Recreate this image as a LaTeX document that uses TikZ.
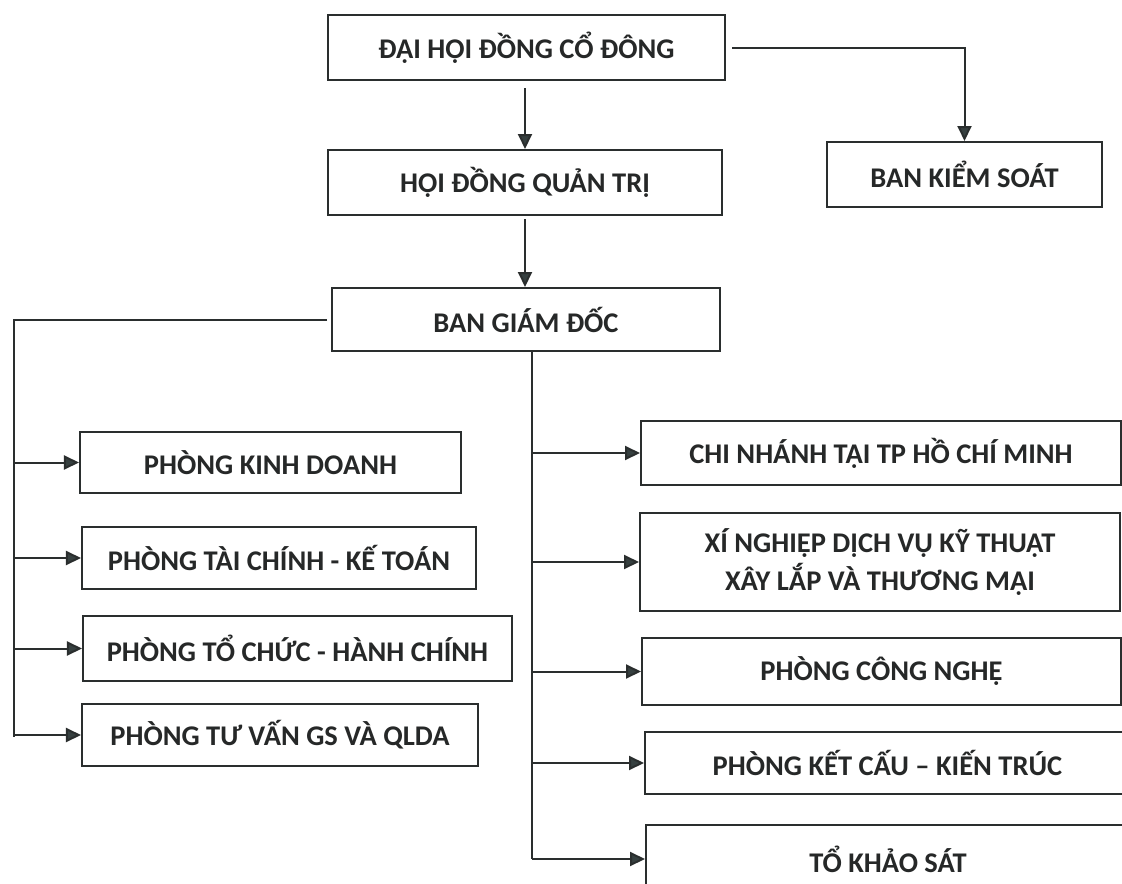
\documentclass[tikz,border=0pt]{standalone}
\usepackage{fontspec}
\setmainfont{Carlito}
\usetikzlibrary{arrows.meta}
\definecolor{linec}{HTML}{2A2E2E}
\definecolor{headc}{HTML}{364040}
\definecolor{textc}{HTML}{262828}
\newcommand{\boxfont}{\fontsize{28.5bp}{38bp}\selectfont\bfseries}
\begin{document}
\begin{tikzpicture}[x=1bp,y=-1bp,
  box/.style={draw=linec, line width=2bp, inner sep=0pt, align=center, font=\boxfont, text=textc},
  ln/.style={draw=linec, line width=2bp},
  arr/.style={draw=linec, line width=2bp, -{Triangle[length=15bp,width=14bp,fill=headc]}}]
\useasboundingbox (0,0) rectangle (1122,884);
\fill[white] (0,0) rectangle (1122,884);

% top
\node[box, minimum width=397bp, minimum height=65bp] (dh) at (526.5,47.5) {ĐẠI HỘI ĐỒNG CỔ ĐÔNG};
\node[box, minimum width=394bp, minimum height=65bp] (hd) at (525,182.5) {HỘI ĐỒNG QUẢN TRỊ};
\node[box, minimum width=275bp, minimum height=65bp] (bks) at (964.5,174.5) {BAN KIỂM SOÁT};
\node[box, minimum width=388bp, minimum height=63bp] (bgd) at (526,319.5) {BAN GIÁM ĐỐC};

% left
\node[box, minimum width=381bp, minimum height=61bp] (kd) at (270.5,462.5) {PHÒNG KINH DOANH};
\node[box, minimum width=394bp, minimum height=62bp] (tc) at (279,558) {PHÒNG TÀI CHÍNH - KẾ TOÁN};
\node[box, minimum width=429bp, minimum height=65bp] (tchc) at (297.5,648.5) {PHÒNG TỔ CHỨC - HÀNH CHÍNH};
\node[box, minimum width=396bp, minimum height=62bp] (tv) at (280,735) {PHÒNG TƯ VẤN GS VÀ QLDA};

% right
\node[box, minimum width=480bp, minimum height=64bp] (cn) at (881,453) {CHI NHÁNH TẠI TP HỒ CHÍ MINH};
\node[box, minimum width=480bp, minimum height=98bp] (xn) at (880,562) {XÍ NGHIỆP DỊCH VỤ KỸ THUẬT\\XÂY LẮP VÀ THƯƠNG MẠI};
\node[box, minimum width=479bp, minimum height=67bp] (cng) at (881.5,671.5) {PHÒNG CÔNG NGHỆ};
\node[box, minimum width=485bp, minimum height=62bp] (kc) at (887.5,763) {PHÒNG KẾT CẤU – KIẾN TRÚC};
\node[box, minimum width=484bp, minimum height=68bp] (tks) at (888,859) {TỔ KHẢO SÁT};

% top connectors
\draw[arr] ([yshift=-7bp]hd.north |- dh.south) -- (hd.north);
\draw[arr] ([yshift=-3bp]hd.south) -- (hd.south |- bgd.north);
\draw[arr] ([xshift=6bp]dh.east) -| (bks.north);

% left trunk
\coordinate (lt) at (14,0);
\draw[ln] ([xshift=-4bp]bgd.west) -- (bgd.west -| lt) -- ([yshift=-2bp]lt |- tv.west);
\draw[arr] (lt |- kd.west) -- (kd.west);
\draw[arr] (lt |- tc.west) -- (tc.west);
\draw[arr] (lt |- tchc.west) -- (tchc.west);
\draw[arr] (lt |- tv.west) -- (tv.west);

% right trunk
\coordinate (rt) at (532,0);
\draw[ln] (bgd.south -| rt) -- (rt |- tks.west);
\draw[arr] (rt |- cn.west) -- (cn.west);
\draw[arr] (rt |- xn.west) -- (xn.west);
\draw[arr] (rt |- cng.west) -- (cng.west);
\draw[arr] (rt |- kc.west) -- (kc.west);
\draw[arr] (rt |- tks.west) -- (tks.west);
\end{tikzpicture}
\end{document}
